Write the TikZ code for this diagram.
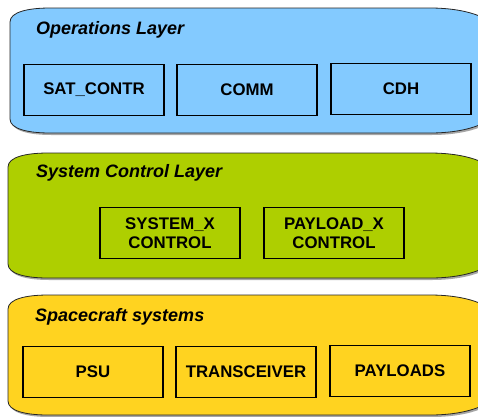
\documentclass[tikz,border=0pt]{standalone}
\usepackage{fontspec}
\setmainfont{Liberation Sans}
\definecolor{opsblue}{HTML}{83CAFF}
\definecolor{ctrlgreen}{HTML}{AECF00}
\definecolor{scyellow}{HTML}{FFD320}
\newcommand\layerpath[3]{%
  ({#1},{#2+14}) .. controls ({#1},{#2+4}) and ({#1+18},{#2}) .. ({#1+40},{#2})
  -- (430,{#2}) .. controls (470,{#2}) and (500,{#2+12}) .. (500,{#2+30})
  -- (500,{#3-30}) .. controls (500,{#3-12}) and (470,{#3}) .. (430,{#3})
  -- ({#1+40},{#3}) .. controls ({#1+18},{#3}) and ({#1},{#3-4}) .. ({#1},{#3-14}) -- cycle}
\tikzset{
  layer/.style={draw=black!85, line width=0.8pt},
  shadow/.style={fill=black!35, draw=none},
  unit/.style={draw=black, line width=1.6pt, minimum width=140pt, minimum height=51pt,
    inner sep=0pt, align=center, font=\fontsize{16.8}{18.5}\selectfont\bfseries},
  layerlabel/.style={anchor=west, inner sep=0pt, font=\fontsize{18}{20}\selectfont\bfseries\itshape}
}
\begin{document}
\begin{tikzpicture}[x=1pt,y=-1pt]
\useasboundingbox (0,0) rectangle (478,416);
\clip (0,0) rectangle (478,416);
% Operations layer
\fill[shadow, shift={(1.5,2)}] \layerpath{10}{8}{133};
\draw[layer, fill=opsblue] \layerpath{10}{8}{133};
% System control layer
\fill[shadow, shift={(1.5,2)}] \layerpath{8}{153}{278};
\draw[layer, fill=ctrlgreen] \layerpath{8}{153}{278};
% Spacecraft systems
\fill[shadow, shift={(1.5,2)}] \layerpath{8}{295}{415};
\draw[layer, fill=scyellow] \layerpath{8}{295}{415};

\node[layerlabel] (opslbl) at (36,30) {Operations Layer};
\node[layerlabel] (ctrllbl) at (36,173) {System Control Layer};
\node[layerlabel] (sclbl) at (35,317) {Spacecraft systems};

\node[unit] (satcontr) at (94,90) {SAT\_CONTR};
\node[unit] (comm) at (247,90) {COMM};
\node[unit] (cdh) at (401,89) {CDH};
\node[unit] (sysx) at (170,233) {SYSTEM\_X\\CONTROL};
\node[unit] (payx) at (334,233) {PAYLOAD\_X\\CONTROL};
\node[unit] (psu) at (93,372) {PSU};
\node[unit] (trx) at (246,372) {TRANSCEIVER};
\node[unit] (payloads) at (400,371) {PAYLOADS};
\end{tikzpicture}
\end{document}
